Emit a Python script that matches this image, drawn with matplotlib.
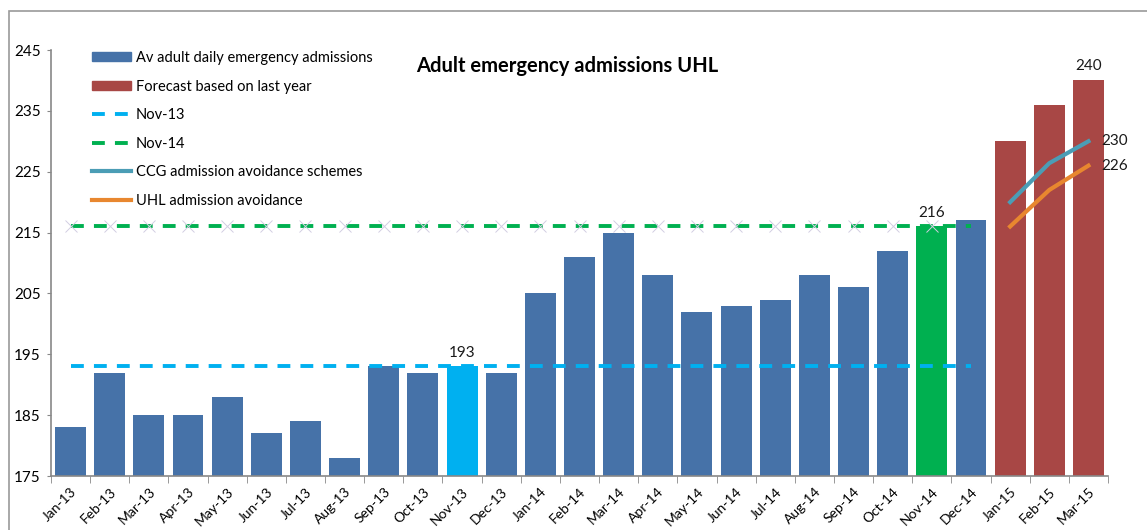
import matplotlib.pyplot as plt
import numpy as np
from matplotlib.patches import Rectangle, Patch
from matplotlib.lines import Line2D

plt.rcParams['font.family'] = ['Lato', 'DejaVu Sans']

# data
months = ['Jan-13', 'Feb-13', 'Mar-13', 'Apr-13', 'May-13', 'Jun-13', 'Jul-13', 'Aug-13',
          'Sep-13', 'Oct-13', 'Nov-13', 'Dec-13', 'Jan-14', 'Feb-14', 'Mar-14', 'Apr-14',
          'May-14', 'Jun-14', 'Jul-14', 'Aug-14', 'Sep-14', 'Oct-14', 'Nov-14', 'Dec-14',
          'Jan-15', 'Feb-15', 'Mar-15']
actual = [183, 192, 185, 185, 188, 182, 184, 178, 193, 192, 193, 192,
          205, 211, 215, 208, 202, 203, 204, 208, 206, 212, 216, 217]
forecast = [230, 236, 240]
nov13_level = 193
nov14_level = 216
ccg = [220, 226.4, 230]
uhl = [216, 222, 226]

blue = '#4672A8'
red = '#A84745'
c_nov13 = '#00B0F0'
c_nov14 = '#00B050'
c_ccg = '#4B9DB5'
c_uhl = '#E8872F'
dash = (0, (3.3, 2.6))

fig = plt.figure(figsize=(11.47, 5.30), dpi=100)
ax = fig.add_axes([51/1147, 1-476/530, 1057/1147, 426/530])

x_act = np.arange(len(actual))
x_fc = np.arange(len(actual), len(months))

bar_cols = [blue]*len(actual)
bar_cols[months.index('Nov-13')] = c_nov13
bar_cols[months.index('Nov-14')] = c_nov14
ax.bar(x_act, np.array(actual) - 175, bottom=175, width=0.79, color=bar_cols, zorder=2)
ax.bar(x_fc, np.array(forecast) - 175, bottom=175, width=0.79, color=red, zorder=2)

ax.plot(x_act, [nov14_level]*len(x_act), color=c_nov14, lw=2.8, ls=dash, zorder=3)
ax.plot(x_act[:-1], [nov14_level]*(len(x_act)-1), ls='none', marker='x', ms=9, mew=0.7,
        color='#D2CEE2', zorder=3.5)
ax.plot(x_act, [nov13_level]*len(x_act), color=c_nov13, lw=2.8, ls=dash, zorder=3)
ax.plot(x_fc, ccg, color=c_ccg, lw=3, zorder=4)
ax.plot(x_fc, uhl, color=c_uhl, lw=3, zorder=4)

# data labels
lab_kw = dict(textcoords='offset points', fontsize=11, color='#1a1a1a')
i13 = months.index('Nov-13')
i14 = months.index('Nov-14')
ax.annotate(str(actual[i13]), (i13, actual[i13]), xytext=(0, 5), ha='center', va='bottom', **lab_kw)
ax.annotate(str(actual[i14]), (i14, actual[i14]), xytext=(0, 5), ha='center', va='bottom', **lab_kw)
ax.annotate(str(forecast[-1]), (x_fc[-1], forecast[-1]), xytext=(0, 5), ha='center', va='bottom', **lab_kw)
ax.annotate(str(int(ccg[-1])), (x_fc[-1], ccg[-1]), xytext=(9, 0), ha='left', va='center', **lab_kw)
ax.annotate(str(int(uhl[-1])), (x_fc[-1], uhl[-1]), xytext=(9, 0), ha='left', va='center', **lab_kw)

ax.set_xlim(-0.5, len(months) - 0.5)
ax.set_ylim(175, 245)
ax.set_yticks(np.arange(175, 246, 10))
ax.tick_params(axis='y', labelsize=11, length=3, color='#888888', pad=4.5)
ax.set_xticks(np.arange(len(months)))
ax.set_xticklabels(months, rotation=45, ha='right', rotation_mode='anchor', fontsize=10)
ax.set_xticks(np.arange(len(months) + 1) - 0.5, minor=True)
ax.tick_params(axis='x', which='major', length=0, pad=7)
ax.tick_params(axis='x', which='minor', length=5, color='#888888')
for s in ['top', 'right']:
    ax.spines[s].set_visible(False)
for s in ['left', 'bottom']:
    ax.spines[s].set_color('#888888')
    ax.spines[s].set_linewidth(1.2)

ax.text(0.488, 242.4, 'Adult emergency admissions UHL', transform=ax.get_yaxis_transform(),
        ha='center', va='center', fontsize=14.5, fontweight='bold')

handles = [Patch(color=blue), Patch(color=red),
           Line2D([], [], color=c_nov13, lw=2.8, ls=dash),
           Line2D([], [], color=c_nov14, lw=2.8, ls=dash),
           Line2D([], [], color=c_ccg, lw=3),
           Line2D([], [], color=c_uhl, lw=3)]
labels = ['Av adult daily emergency admissions', 'Forecast based on last year',
          'Nov-13', 'Nov-14', 'CCG admission avoidance schemes', 'UHL admission avoidance']
fig.legend(handles, labels, loc='upper left', bbox_to_anchor=(92/1147, 1-51/530),
           frameon=False, fontsize=10.5, borderpad=0, borderaxespad=0, handlelength=2.7,
           handleheight=0.6, labelspacing=1.0, handletextpad=0.3)

# chart area border
fig.patches.append(Rectangle((9/1147, -0.1), 1.2, 1-11/530 + 0.1, transform=fig.transFigure,
                             fill=False, edgecolor='#9a9a9a', lw=1.2))

fig.savefig('out.png', dpi=100)
